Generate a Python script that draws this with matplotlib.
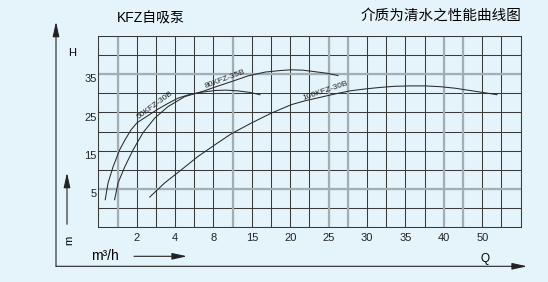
import matplotlib
matplotlib.use("Agg")
import matplotlib.pyplot as plt
import numpy as np
from matplotlib.transforms import ScaledTranslation

plt.rcParams["font.family"] = ["Liberation Sans", "Noto Sans CJK SC", "DejaVu Sans"]

BG = "#e5f4fa"
GRID = "#3a3a3a"
GREY = "#a3aeb3"
W, H = 548, 282          # output size in px

# printed Q labels sit on every 2nd grid line, values are not evenly spaced
q_tick_vals = [2, 4, 8, 15, 20, 25, 30, 35, 40, 50]
q_tick_labels = ["2", "4", "8", "15", "20", "25", "30", "35", "40", "50"]
grid_cells = [0, 2, 4, 6, 8, 10, 12, 14, 16, 18, 20, 22]
grid_q = [0, 2, 4, 8, 15, 20, 25, 30, 35, 40, 50, 60]
grey_cells = [1, 7, 12, 13, 18, 19]

h_tick_vals = [5, 15, 25, 35]
grey_h = [5, 35]

# Q (m3/h), H (m)
q_50 = [0.36, 0.51, 0.77, 1.11, 1.39, 1.70, 2.02, 2.48, 3.06, 3.58, 4.30,
        5.55, 6.91, 8.27, 10.28, 12.47, 14.65, 16.05]
h_50 = [2.2, 6.6, 10.8, 15.2, 17.8, 20.4, 22.3, 23.8, 25.7, 27.2, 28.7,
        29.7, 30.3, 30.7, 30.8, 30.6, 30.2, 29.6]

q_80 = [0.85, 1.03, 1.38, 1.81, 2.33, 2.94, 3.63, 5.00, 6.91, 8.27, 11.01,
        14.29, 16.71, 18.66, 20.09, 21.65, 23.22, 24.78, 26.21]
h_80 = [2.2, 6.6, 10.8, 15.2, 19.7, 23.5, 26.5, 29.1, 30.5, 31.6, 32.9,
        34.5, 35.5, 35.9, 36.1, 36.0, 35.6, 35.2, 34.6]

q_100 = [2.68, 3.46, 4.65, 6.39, 8.22, 11.24, 14.89, 17.53, 20.13, 21.88,
         23.87, 25.82, 27.77, 29.73, 31.68, 33.63, 35.59, 37.54, 39.49,
         42.89, 46.80, 50.70, 53.83]
h_100 = [2.9, 6.6, 10.0, 13.5, 16.5, 19.4, 22.2, 24.8, 27.0, 28.0,
         28.9, 29.8, 30.6, 31.1, 31.5, 31.8, 31.9, 31.9, 31.7,
         31.3, 30.7, 30.1, 29.6]

curve_names = ["50KFZ-30B", "80KFZ-35B", "100KFZ-30B"]
# label baseline anchor (Q, H) and screen angle
label_q = [3.0, 10.2, 24.65]
label_h = [26.6, 33.4, 30.2]
label_rot = [36, 20.5, 19]


def fwd(q):
    return np.interp(q, grid_q, grid_cells)


def inv(c):
    return np.interp(c, grid_cells, grid_q)


fig = plt.figure(figsize=(W / 100, H / 100), dpi=100, facecolor=BG)
ax = fig.add_axes([98.3 / W, 1 - 227.3 / H, 422.4 / W, 191.6 / H])
ax.set_facecolor(BG)

ax.set_xscale("function", functions=(fwd, inv))
ax.set_xlim(0, 60)
ax.set_ylim(-5, 45)

ax.set_xticks(q_tick_vals)
ax.set_xticklabels(q_tick_labels)
ax.set_xticks(inv(np.arange(23)), minor=True)
ax.set_yticks(h_tick_vals)
ax.set_yticks(np.arange(-5, 46, 5), minor=True)
ax.xaxis.set_minor_formatter(plt.NullFormatter())
ax.yaxis.set_minor_formatter(plt.NullFormatter())
ax.tick_params(which="both", length=0, labelsize=8, colors="#222222")
ax.tick_params(axis="x", pad=4)
ax.tick_params(axis="y", pad=1)
ax.grid(which="both", color=GRID, lw=0.75)
ax.set_axisbelow(True)
for s in ax.spines.values():
    s.set_color(GRID)
    s.set_linewidth(0.75)

off = ScaledTranslation(0, -3 / 72, fig.dpi_scale_trans)
for lab in ax.get_yticklabels():
    lab.set_transform(lab.get_transform() + off)

for q in inv(np.array(grey_cells)):
    ax.axvline(q, color=GREY, lw=1.6, zorder=1)
for h in grey_h:
    ax.axhline(h, color=GREY, lw=1.6, zorder=1)

for qs, hs in [(q_50, h_50), (q_80, h_80), (q_100, h_100)]:
    ax.plot(qs, hs, color="#2a2a2a", lw=0.75, zorder=3)

for name, q, h, r in zip(curve_names, label_q, label_h, label_rot):
    ax.text(q, h, name, fontsize=6, rotation=r, rotation_mode="anchor",
            ha="center", va="baseline", color="#222222", zorder=4)

# outer frame with arrows
arrow = dict(arrowstyle="-|>,head_length=0.9,head_width=0.2", color="#222222",
             lw=0.8, mutation_scale=10, shrinkA=0, shrinkB=0)
ax.annotate("", xy=(56 / W, 1 - 21.7 / H), xytext=(56 / W, 1 - 266.3 / H),
            xycoords="figure fraction", arrowprops=arrow)
ax.annotate("", xy=(527 / W, 1 - 266.3 / H), xytext=(56 / W, 1 - 266.3 / H),
            xycoords="figure fraction", arrowprops=arrow)
ax.annotate("", xy=(67 / W, 1 - 172.7 / H), xytext=(67 / W, 1 - 224.3 / H),
            xycoords="figure fraction", arrowprops=arrow)
ax.annotate("", xy=(187 / W, 1 - 256.3 / H), xytext=(134 / W, 1 - 256.3 / H),
            xycoords="figure fraction", arrowprops=arrow)

fig.text(71.7 / W, 1 - 53.3 / H, "H", fontsize=8, ha="center", va="center")
fig.text(69 / W, 1 - 240 / H, "m", fontsize=8, rotation=90, ha="center", va="center")
fig.text(105 / W, 1 - 256 / H, "m³/h", fontsize=10, ha="center", va="center")
fig.text(484.7 / W, 1 - 259.3 / H, "Q", fontsize=8.5, ha="center", va="center")
fig.text(151 / W, 1 - 19 / H, "KFZ自吸泵", fontsize=10, ha="center", va="center")
fig.text(521 / W, 1 - 16 / H, "介质为清水之性能曲线图", fontsize=10.5,
         ha="right", va="center")

fig.savefig("out.png", dpi=100, facecolor=BG)
